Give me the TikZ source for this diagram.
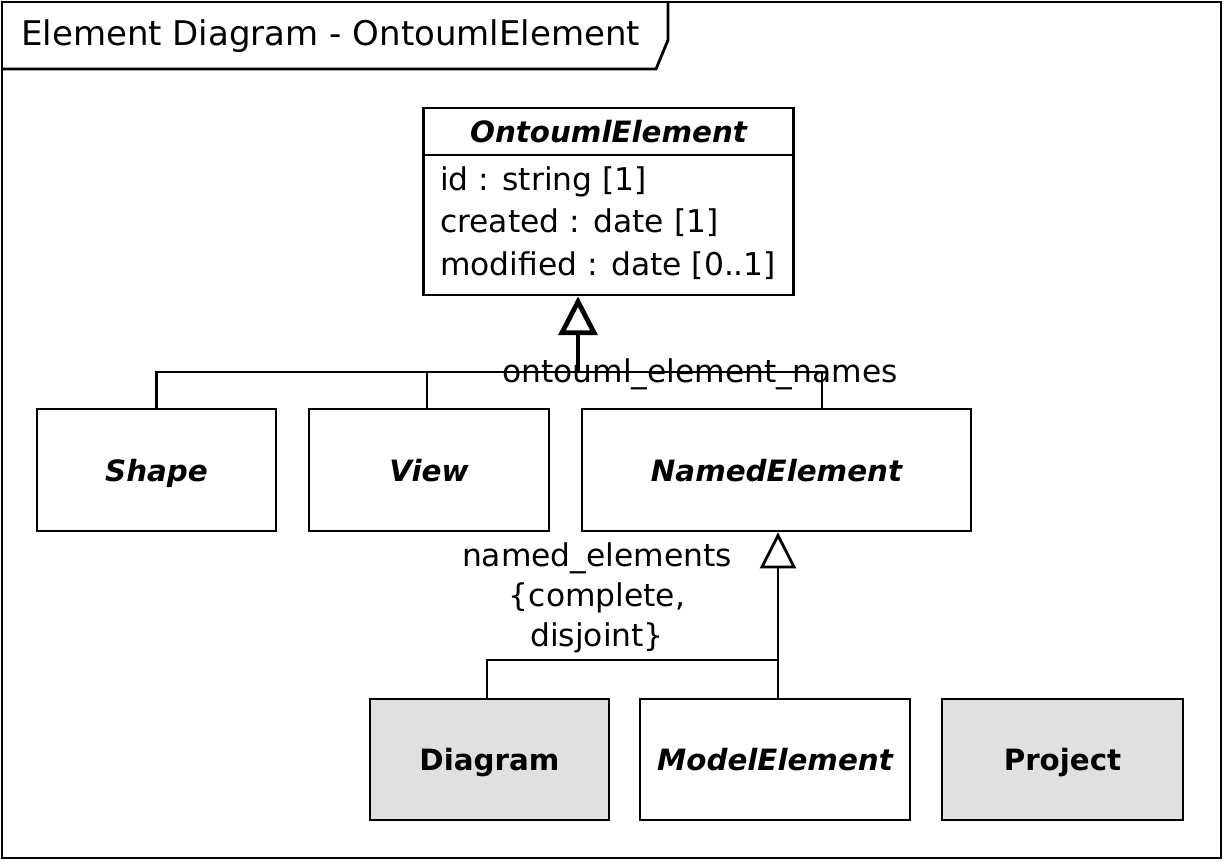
\documentclass[tikz,border=0pt]{standalone}
\usepackage{fontspec}
\setmainfont{DejaVu Sans}
\usetikzlibrary{arrows.meta}
\definecolor{boxgrey}{HTML}{E0E0E0}
\tikzset{
  line/.style={line width=2.1pt},
  cls/.style={draw, line width=2.1pt, inner sep=0pt, text height=20pt, text depth=3pt, font=\fontsize{22}{26}\selectfont\bfseries\itshape},
  ccls/.style={cls, font=\fontsize{22}{26}\selectfont\bfseries},
  lbl/.style={font=\fontsize{23.5}{30}\selectfont, inner sep=0pt, align=center},
  gen/.style={line width=2.1pt, -{Triangle[open, length=27pt, width=27pt]}},
  genthick/.style={line width=3.6pt, -{Triangle[open, length=29pt, width=29pt]}},
}
\begin{document}
\begin{tikzpicture}[x=0.75pt, y=-0.75pt]
\useasboundingbox (0,0) rectangle (1224,861);
% frame
\draw[line] (2,2) rectangle (1221,858);
\draw[line] (2,69) -- (656,69) -- (668,40) -- (668,2);
\node[anchor=west, inner sep=0pt, font=\fontsize{25.5}{30}\selectfont] (frametitle) at (21,36) {Element Diagram - OntoumlElement};

% OntoumlElement
\node[draw, line width=2.1pt, minimum width=277.5pt, minimum height=140.25pt, inner sep=0pt] (oe) at (608.5,201.5) {};
\node[font=\fontsize{22}{26}\selectfont\bfseries\itshape, inner sep=0pt, text height=20pt, text depth=3pt] (oetitle) at (608.5,131) {OntoumlElement};
\draw[line] (oe.west |- 0,155) -- (oe.east |- 0,155);
\node[lbl, anchor=west] (a1) at (440,182) {id : string [1]};
\node[lbl, anchor=west] (a2) at (440,223) {created : date [1]};
\node[lbl, anchor=west] (a3) at (440,266) {modified : date [0..1]};

% classes
\node[cls, minimum width=179.25pt, minimum height=91.5pt] (shape) at (156.5,470) {Shape};
\node[cls, minimum width=180pt, minimum height=91.5pt] (view) at (429,470) {View};
\node[cls, minimum width=291.75pt, minimum height=91.5pt] (ne) at (776.5,470) {NamedElement};
\node[ccls, fill=boxgrey, minimum width=179.25pt, minimum height=90.75pt] (diagram) at (489.5,759.5) {Diagram};
\node[cls, minimum width=202.5pt, minimum height=90.75pt] (me) at (775,759.5) {ModelElement};
\node[ccls, fill=boxgrey, minimum width=180.75pt, minimum height=90.75pt] (project) at (1062.5,759.5) {Project};

% generalization set 1
\coordinate (j1) at (578,372);
\coordinate (neTop) at (822,409);
\coordinate (viewTop) at (427,409);
\draw[line] (shape.north) |- (j1) -| (neTop);
\draw[line] (viewTop) -- (viewTop |- j1);
\draw[genthick] (j1) -- (oe.south -| j1);
\node[lbl] (gs1) at (700,374) {ontouml\_element\_names};

% generalization set 2
\coordinate (j2) at (778,660);
\draw[line] (diagram.north -| 487,0) |- (j2);
\draw[gen] (me.north -| j2) -- (ne.south -| j2);
\node[lbl] (gs2) at (597,598) {named\_elements\\\{complete,\\disjoint\}};
\end{tikzpicture}
\end{document}
